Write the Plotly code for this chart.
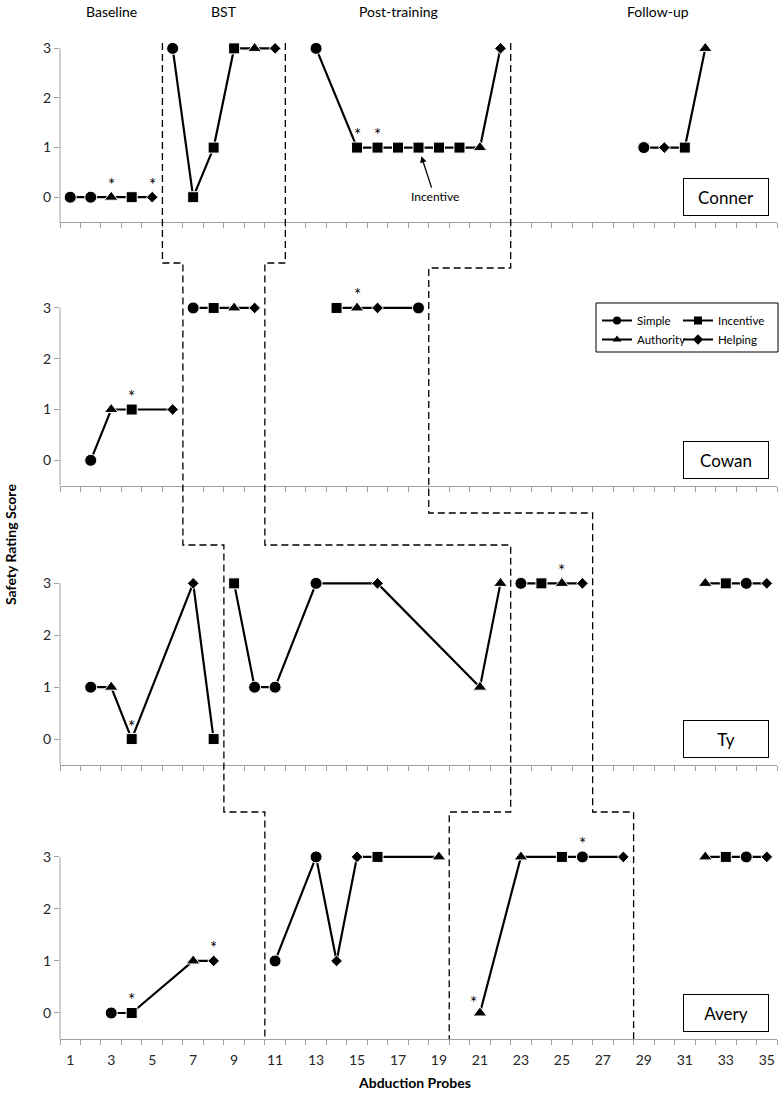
import plotly.graph_objects as go
from plotly.subplots import make_subplots

# Safety rating score per abduction probe, one block per child
participants = ['Conner', 'Cowan', 'Ty', 'Avery']

conner_probe = [1, 2, 3, 4, 5, 6, 7, 8, 9, 10, 11, 13, 15, 16, 17, 18, 19, 20, 21, 22, 29, 30, 31, 32]
conner_score = [0, 0, 0, 0, 0, 3, 0, 1, 3, 3, 3, 3, 1, 1, 1, 1, 1, 1, 1, 3, 1, 1, 1, 3]
conner_cond = ['Simple', 'Simple', 'Authority', 'Incentive', 'Helping',
               'Simple', 'Incentive', 'Incentive', 'Incentive', 'Authority', 'Helping',
               'Simple', 'Incentive', 'Incentive', 'Incentive', 'Incentive', 'Incentive', 'Incentive',
               'Authority', 'Helping',
               'Simple', 'Helping', 'Incentive', 'Authority']
conner_phase = [0, 0, 0, 0, 0, 1, 1, 1, 1, 1, 1, 2, 2, 2, 2, 2, 2, 2, 2, 2, 3, 3, 3, 3]
conner_star = [3, 5, 15, 16]

cowan_probe = [2, 3, 4, 6, 7, 8, 9, 10, 14, 15, 16, 18]
cowan_score = [0, 1, 1, 1, 3, 3, 3, 3, 3, 3, 3, 3]
cowan_cond = ['Simple', 'Authority', 'Incentive', 'Helping',
              'Simple', 'Incentive', 'Authority', 'Helping',
              'Incentive', 'Authority', 'Helping', 'Simple']
cowan_phase = [0, 0, 0, 0, 1, 1, 1, 1, 2, 2, 2, 2]
cowan_star = [4, 15]

ty_probe = [2, 3, 4, 7, 8, 9, 10, 11, 13, 16, 21, 22, 23, 24, 25, 26, 32, 33, 34, 35]
ty_score = [1, 1, 0, 3, 0, 3, 1, 1, 3, 3, 1, 3, 3, 3, 3, 3, 3, 3, 3, 3]
ty_cond = ['Simple', 'Authority', 'Incentive', 'Helping', 'Incentive',
           'Incentive', 'Simple', 'Simple', 'Simple', 'Helping', 'Authority', 'Authority',
           'Simple', 'Incentive', 'Authority', 'Helping',
           'Authority', 'Incentive', 'Simple', 'Helping']
ty_phase = [0, 0, 0, 0, 0, 1, 1, 1, 1, 1, 1, 1, 2, 2, 2, 2, 3, 3, 3, 3]
ty_star = [4, 25]

avery_probe = [3, 4, 7, 8, 11, 13, 14, 15, 16, 19, 21, 23, 25, 26, 28, 32, 33, 34, 35]
avery_score = [0, 0, 1, 1, 1, 3, 1, 3, 3, 3, 0, 3, 3, 3, 3, 3, 3, 3, 3]
avery_cond = ['Simple', 'Incentive', 'Authority', 'Helping',
              'Simple', 'Simple', 'Helping', 'Helping', 'Incentive', 'Authority',
              'Authority', 'Authority', 'Incentive', 'Simple', 'Helping',
              'Authority', 'Incentive', 'Simple', 'Helping']
avery_phase = [0, 0, 0, 0, 1, 1, 1, 1, 1, 1, 2, 2, 2, 2, 2, 3, 3, 3, 3]
avery_star = [4, 8, 21, 26]

# phase names and where each phase change falls for Conner, Cowan, Ty, Avery
phase_names = ['Baseline', 'BST', 'Post-training', 'Follow-up']
phase_name_x = [3, 8.5, 17, 29.7]
change_bst = [5.5, 6.5, 8.5, 10.5]
change_post = [11.5, 10.5, 22.5, 19.5]
change_follow = [22.5, 18.5, 26.5, 28.5]

conditions = ['Simple', 'Authority', 'Incentive', 'Helping']

series = [
    (conner_probe, conner_score, conner_cond, conner_phase, conner_star),
    (cowan_probe, cowan_score, cowan_cond, cowan_phase, cowan_star),
    (ty_probe, ty_score, ty_cond, ty_phase, ty_star),
    (avery_probe, avery_score, avery_cond, avery_phase, avery_star),
]

W, H = 780, 1097
M_L, M_R, M_T, M_B = 60, 3, 20, 58
GRAY = '#a0a0a0'
FONT = 'Lato'


def px_x(p):
    return (p - M_L) / (W - M_L - M_R)


def px_y(p):
    return (H - M_B - p) / (H - M_T - M_B)


# pixel rows of each panel: (x axis line, top of plot area)
panel_px = [(222, 33.5), (485.7, 292.7), (765, 567.8), (1039, 841.3)]

symbols = {'Simple': 'circle', 'Incentive': 'square', 'Authority': 'triangle-up', 'Helping': 'diamond'}
sizes = {'Simple': 12, 'Incentive': 11, 'Authority': 12, 'Helping': 9}

fig = make_subplots(rows=4, cols=1, shared_xaxes=True)

annotations = []
shapes = []

for i, (probe, score, cond, phase, star) in enumerate(series):
    xs, ys, sym, sz = [], [], [], []
    for j in range(len(probe)):
        if j > 0 and phase[j] != phase[j - 1]:
            xs.append(None)
            ys.append(None)
            sym.append('circle')
            sz.append(0)
        xs.append(probe[j])
        ys.append(score[j])
        sym.append(symbols[cond[j]])
        sz.append(sizes[cond[j]])
    fig.add_trace(go.Scatter(
        x=xs, y=ys, mode='lines+markers',
        line=dict(color='black', width=2.2),
        marker=dict(symbol=sym, size=sz, color='black', opacity=1),
        showlegend=False, cliponaxis=False, hoverinfo='x+y'
    ), row=i + 1, col=1)

    xa = 'x' if i == 0 else f'x{i + 1}'
    ya = 'y' if i == 0 else f'y{i + 1}'

    # asterisks
    for p in star:
        left = (participants[i] == 'Avery' and p == 21)
        annotations.append(dict(
            x=p, y=score[probe.index(p)], xref=xa, yref=ya, text='*', showarrow=False,
            xshift=-6 if left else 0, yshift=10 if left else 13,
            font=dict(size=17, color='black', family=FONT)))

    # participant name box
    annotations.append(dict(
        x=px_x(769), y=0, xref='paper', yref=ya, xanchor='right', yanchor='middle',
        text=participants[i], showarrow=False, width=76, height=28, borderpad=4,
        bordercolor='black', borderwidth=1, bgcolor='white',
        font=dict(size=17, color='black', family=FONT)))

    # y axis line from -0.5 to 3 only
    shapes.append(dict(type='line', xref=f'{xa} domain', x0=0, x1=0, yref=ya, y0=-0.5, y1=3,
                       line=dict(color=GRAY, width=1)))

    bot, top = panel_px[i]
    fig.update_yaxes(row=i + 1, col=1, domain=[max(0, px_y(bot)), px_y(top)], range=[-0.5, 3.3],
                     tickvals=[0, 1, 2, 3], ticks='outside', ticklen=5, tickcolor=GRAY,
                     showline=False, showgrid=False, zeroline=False,
                     tickfont=dict(size=14, color='#262626', family=FONT))
    fig.update_xaxes(row=i + 1, col=1, range=[0.5, 35.5], showline=True, linecolor=GRAY, linewidth=1,
                     showgrid=False, zeroline=False, tickmode='array', tickvals=list(range(1, 36, 2)),
                     ticks='outside', ticklen=0, showticklabels=(i == 3), ticklabelstandoff=8,
                     tickfont=dict(size=14, color='#262626', family=FONT),
                     minor=dict(tickmode='linear', tick0=0.5, dtick=1, ticks='outside',
                                ticklen=5, tickcolor=GRAY, showgrid=False))

# dashed phase change lines, stepping down through the panels
conn_a = [263, 545, 812]
conn_b = [268, 513, 812]
for xs_c, conn in [(change_bst, conn_a), (change_post, conn_a), (change_follow, conn_b)]:
    path = f'M {xs_c[0]},{px_y(43)}'
    for k in range(3):
        path += f' L {xs_c[k]},{px_y(conn[k])} L {xs_c[k + 1]},{px_y(conn[k])}'
    path += f' L {xs_c[3]},{px_y(1039)}'
    shapes.append(dict(type='path', xref='x', yref='paper', path=path,
                       line=dict(color='black', width=1.3, dash='7px,4px')))

# phase names at top
for name, xv in zip(phase_names, phase_name_x):
    annotations.append(dict(x=xv, y=px_y(11), xref='x', yref='paper', text=name, showarrow=False,
                            yanchor='middle', font=dict(size=14, color='black', family=FONT)))

# Incentive callout on Conner
annotations.append(dict(x=18, y=1, xref='x', yref='y', text='Incentive', showarrow=True,
                        ax=16, ay=49, arrowhead=2, arrowsize=1, arrowwidth=1.3, standoff=9,
                        arrowcolor='black', font=dict(size=12, color='black', family=FONT)))

# axis titles
annotations.append(dict(x=px_x(10), y=px_y(545), xref='paper', yref='paper', text='<b>Safety Rating Score</b>',
                        textangle=-90, xanchor='center', yanchor='middle', showarrow=False,
                        font=dict(size=14, color='black', family=FONT)))
annotations.append(dict(x=px_x(414), y=px_y(1082), xref='paper', yref='paper', text='<b>Abduction Probes</b>',
                        xanchor='center', yanchor='middle', showarrow=False,
                        font=dict(size=14, color='black', family=FONT)))

# legend box with two columns
shapes.append(dict(type='rect', xref='paper', yref='paper', x0=px_x(596), x1=px_x(778),
                   y0=px_y(352), y1=px_y(303), line=dict(color='black', width=1)))
for c in conditions:
    fig.add_trace(go.Scatter(
        x=[None], y=[None], mode='lines+markers', name=c,
        line=dict(color='black', width=2),
        marker=dict(symbol=symbols[c], size=8, color='black'),
        legend='legend' if c in ('Simple', 'Authority') else 'legend2'
    ), row=2, col=1)

fig.update_layout(
    width=W, height=H,
    margin=dict(l=M_L, r=M_R, t=M_T, b=M_B),
    paper_bgcolor='white', plot_bgcolor='white',
    font=dict(family=FONT, color='black'),
    annotations=annotations, shapes=shapes,
    legend=dict(x=px_x(597), y=px_y(306), xanchor='left', yanchor='top', bgcolor='rgba(0,0,0,0)',
                font=dict(size=11.5), itemwidth=30, tracegroupgap=0),
    legend2=dict(x=px_x(678), y=px_y(306), xanchor='left', yanchor='top', bgcolor='rgba(0,0,0,0)',
                 font=dict(size=11.5), itemwidth=30, tracegroupgap=0),
)

# drop the browser's default body margin so the figure sits at the window corner
fig.write_html("out.html", config={'displayModeBar': False},
               post_script="document.body.style.margin='0';")
